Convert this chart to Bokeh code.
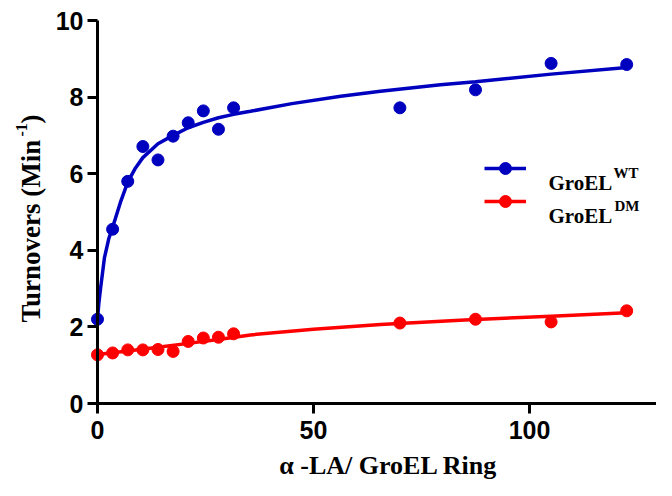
import math
from bokeh.plotting import figure
from bokeh.models import Range1d, FixedTicker, Label, Legend, LegendItem
from bokeh.embed import file_html
from bokeh.resources import INLINE

# ---- data ----
wt_x = [0, 3.5, 7, 10.5, 14, 17.5, 21, 24.5, 28, 31.5, 70, 87.5, 105, 122.5]
wt_y = [2.20, 4.55, 5.80, 6.71, 6.36, 6.98, 7.33, 7.64, 7.16, 7.72, 7.72, 8.19, 8.88, 8.85]
dm_x = [0, 3.5, 7, 10.5, 14, 17.5, 21, 24.5, 28, 31.5, 70, 87.5, 105, 122.5]
dm_y = [1.27, 1.32, 1.40, 1.40, 1.41, 1.36, 1.62, 1.71, 1.73, 1.82, 2.10, 2.20, 2.13, 2.42]

# fitted curves
wt_fit_x = [0, 0.3, 0.7, 1.6, 2.6, 3.5, 5.3, 7, 8.8, 10.5, 14, 17.5, 21, 24.5, 28, 31.5,
            35.4, 45, 56.3, 65.5, 79.4, 87.5, 105, 122.5]
wt_fit_y = [2.20, 2.60, 3.00, 3.80, 4.30, 4.60, 5.25, 5.78, 6.15, 6.42, 6.78, 7.00, 7.20,
            7.34, 7.46, 7.55, 7.63, 7.83, 8.02, 8.15, 8.32, 8.40, 8.60, 8.77]
dm_fit_x = [0, 7, 14, 21, 28, 35.4, 50, 65.5, 85, 105, 122.5]
dm_fit_y = [1.28, 1.37, 1.47, 1.57, 1.67, 1.79, 1.94, 2.06, 2.18, 2.28, 2.37]

x_ticks = [0, 50, 100]
y_ticks = [0, 2, 4, 6, 8, 10]

BLUE = "#0000BF"
RED = "#FF0000"
SERIF = "Liberation Serif"
SANS = "Liberation Sans"

# ---- layout: the frame covers the whole canvas ----
W, H = 656, 480
X0_PX, SX = 97.0, 4.32     # pixel of x=0, pixels per x unit
Y0_PX, SY = 403.0, 38.3    # pixel of y=0, pixels per y unit


def dx(px):
    return (px - X0_PX) / SX


def dy(py):
    return (Y0_PX - py) / SY


x_start, x_end = dx(0), dx(W)
y_start, y_end = dy(H), dy(0)

p = figure(width=W, height=H, output_backend="svg", toolbar_location=None,
           x_range=Range1d(x_start, x_end), y_range=Range1d(y_start, y_end),
           min_border_left=0, min_border_right=0, min_border_top=0,
           min_border_bottom=0)
p.outline_line_color = None
p.grid.visible = False
p.background_fill_color = "white"

p.xaxis.fixed_location = 0
p.yaxis.fixed_location = 0
p.xaxis.bounds = (0, x_end)
p.yaxis.bounds = (0, 10)
p.xaxis.ticker = FixedTicker(ticks=x_ticks)
p.yaxis.ticker = FixedTicker(ticks=y_ticks)
for ax in (p.xaxis, p.yaxis):
    ax.axis_line_width = 3
    ax.major_tick_line_width = 3
    ax.major_tick_out = 10
    ax.major_tick_in = 0
    ax.minor_tick_out = 0
    ax.minor_tick_in = 0
    ax.major_label_text_font = SANS
    ax.major_label_text_font_style = "bold"
    ax.major_label_text_font_size = "25px"
    ax.major_label_text_color = "black"
    ax.axis_line_color = "black"
    ax.major_tick_line_color = "black"
p.xaxis.major_label_standoff = 7
p.yaxis.major_label_standoff = 4

# curves
lb = p.line(wt_fit_x, wt_fit_y, line_color=BLUE, line_width=3.5)
lr = p.line(dm_fit_x, dm_fit_y, line_color=RED, line_width=3.5)
sb = p.scatter(wt_x, wt_y, size=12, fill_color=BLUE, line_color=BLUE)
sr = p.scatter(dm_x, dm_y, size=12, fill_color=RED, line_color=RED)

# legend (location is measured from the frame's bottom-left corner)
legend = Legend(items=[LegendItem(label=" ", renderers=[lb, sb]),
                       LegendItem(label=" ", renderers=[lr, sr])],
                location=(484, H - 216), glyph_width=42, glyph_height=30, spacing=3,
                padding=0, margin=0, border_line_color=None,
                background_fill_alpha=0, label_text_font_size="2px",
                label_height=30)
p.add_layout(legend)


def lab(px, py, text, size, **kw):
    p.add_layout(Label(x=dx(px), y=dy(py), text=text, text_font=SERIF,
                       text_font_style="bold", text_font_size=size,
                       text_color="black", **kw))


# legend texts
lab(548, 182.7, "GroEL", "21px", text_baseline="alphabetic")
lab(613, 172.3, "WT", "15px", text_baseline="alphabetic")
lab(548, 215.0, "GroEL", "21px", text_baseline="alphabetic")
lab(614, 205.7, "DM", "15px", text_baseline="alphabetic")

# axis titles
lab(388, 465, "\u03b1 -LA/ GroEL Ring", "26px", text_align="center",
    text_baseline="alphabetic")
lab(30, 322, "Turnovers (Min", "27px", text_align="left",
    text_baseline="alphabetic", angle=math.pi / 2)
lab(21, 136, "-1", "16px", text_align="left",
    text_baseline="alphabetic", angle=math.pi / 2)
lab(30, 123, ")", "27px", text_align="left",
    text_baseline="alphabetic", angle=math.pi / 2)

open("out.html", "w").write(file_html(p, INLINE))
